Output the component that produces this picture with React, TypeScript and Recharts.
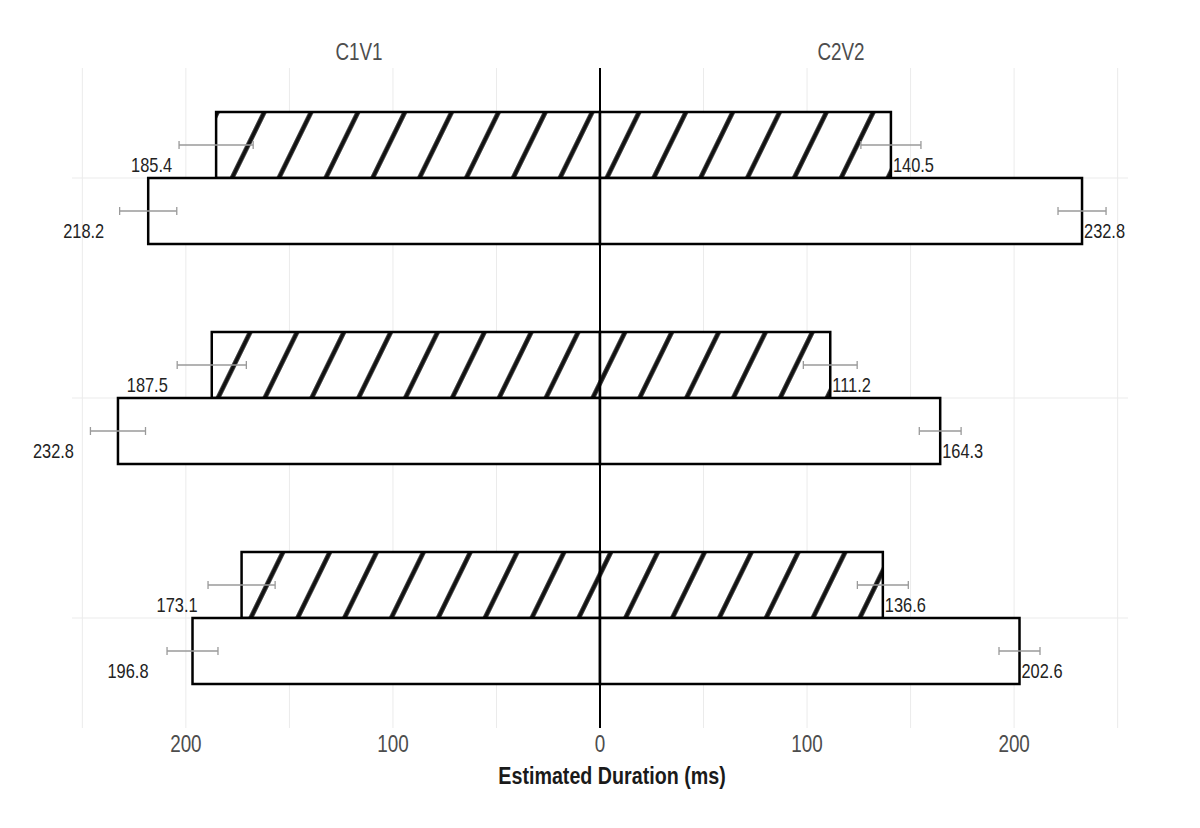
import React from 'react';
import { BarChart, Bar, XAxis, YAxis, CartesianGrid, ErrorBar, LabelList, ReferenceLine } from 'recharts';

// three rows, each a hatched bar (top) and an open bar (bottom)
const categories = ['Row 1', 'Row 2', 'Row 3'];
const panelTitles = ['C1V1', 'C2V2'];
const panelTitleAt = [-116.4, 116.4];
const xTicks = [-250, -200, -150, -100, -50, 0, 50, 100, 150, 200, 250];

const hatchedC1V1 = [185.4, 187.5, 173.1];
const hatchedC2V2 = [140.5, 111.2, 136.6];
const openC1V1 = [218.2, 232.8, 196.8];
const openC2V2 = [232.8, 164.3, 202.6];

const hatchedC1V1Err = [17.9, 16.7, 16.2];
const hatchedC2V2Err = [14.5, 13.0, 12.3];
const openC1V1Err = [13.8, 13.3, 12.3];
const openC2V2Err = [11.6, 10.1, 9.9];

const data = categories.map((name, i) => ({
  name,
  hatchedLeft: -hatchedC1V1[i],
  hatchedRight: hatchedC2V2[i],
  openLeft: -openC1V1[i],
  openRight: openC2V2[i],
  hatchedLeftErr: hatchedC1V1Err[i],
  hatchedRightErr: hatchedC2V2Err[i],
  openLeftErr: openC1V1Err[i],
  openRightErr: openC2V2Err[i],
}));

const FONT = '"Liberation Sans", Arial, sans-serif';
const NARROW = 0.82; // squeeze Arial-like glyphs into a narrow face

function NarrowText({ x, y, anchor = 'middle', size, weight = 'normal', fill, dy = 0, baseline = 'auto', children }: any) {
  return (
    <text
      transform={`translate(${x},${y}) scale(${NARROW},1)`}
      x={0}
      y={0}
      dy={dy}
      textAnchor={anchor}
      dominantBaseline={baseline}
      fontFamily={FONT}
      fontSize={size}
      fontWeight={weight}
      fill={fill}
    >
      {children}
    </text>
  );
}

const valueLabel = (side: 'left' | 'right') => (props: any) => {
  const vb = props.viewBox || {};
  const x = Number(vb.x ?? props.x);
  const y = Number(vb.y ?? props.y);
  const w = Number(vb.width ?? props.width);
  const h = Number(vb.height ?? props.height);
  const raw = Array.isArray(props.value) ? props.value[1] : props.value;
  const barLeft = Math.min(x, x + w);
  const barRight = Math.max(x, x + w);
  const bottom = Math.max(y, y + h);
  return (
    <NarrowText
      x={side === 'left' ? barLeft - 44 : barRight + 2}
      y={bottom - 13}
      anchor={side === 'left' ? 'end' : 'start'}
      baseline="central"
      size={20}
      fill="#222"
    >
      {Math.abs(Number(raw)).toFixed(1)}
    </NarrowText>
  );
};

const BottomTick = (props: any) => {
  const v = Number(props.payload?.value);
  if (v % 100 !== 0) return <g />;
  return (
    <NarrowText x={props.x} y={props.y} dy="0.71em" size={23} fill="#4d4d4d">
      {String(Math.abs(v))}
    </NarrowText>
  );
};

const TopTick = (props: any) => {
  const v = Number(props.payload?.value);
  return (
    <NarrowText x={props.x} y={props.y} size={23} fill="#4d4d4d">
      {v < 0 ? panelTitles[0] : panelTitles[1]}
    </NarrowText>
  );
};

const AxisTitle = (props: any) => {
  const vb = props.viewBox || {};
  return (
    <NarrowText x={vb.x + vb.width / 2 + 12} y={vb.y + vb.height - 44} size={24} weight="bold" fill="#1a1a1a">
      Estimated Duration (ms)
    </NarrowText>
  );
};

const errStyle = { stroke: '#9a9a9a', strokeWidth: 1.3 };

export default function App() {
  return (
    <div style={{ position: 'absolute', left: 0, top: 0, width: 1200, height: 828, background: '#fff' }}>
      <BarChart
        width={1200}
        height={828}
        data={data}
        layout="vertical"
        stackOffset="sign"
        barCategoryGap="20%"
        barGap={0}
        margin={{ top: 0, right: 72, bottom: 0, left: 72 }}
      >
        <defs>
          <pattern
            id="hatch"
            patternUnits="userSpaceOnUse"
            width={42.07}
            height={42.07}
            patternTransform="translate(295.8,0) rotate(26.1)"
          >
            <rect width={42.07} height={42.07} fill="#fff" />
            <rect x={18.79} y={0} width={4.5} height={42.07} fill="#111" />
          </pattern>
        </defs>
        <CartesianGrid xAxisId="bottom" stroke="#ebebeb" strokeWidth={1} syncWithTicks />
        <XAxis
          xAxisId="bottom"
          type="number"
          domain={[-255, 255]}
          ticks={xTicks}
          interval={0}
          allowDataOverflow
          axisLine={false}
          tickLine={false}
          height={100}
          tick={<BottomTick />}
          label={<AxisTitle />}
        />
        <XAxis
          xAxisId="top"
          orientation="top"
          type="number"
          domain={[-255, 255]}
          ticks={panelTitleAt}
          interval={0}
          allowDataOverflow
          axisLine={false}
          tickLine={false}
          height={68}
          tick={<TopTick />}
        />
        <YAxis type="category" dataKey="name" hide />
        <Bar xAxisId="bottom" dataKey="hatchedLeft" stackId="hatched" fill="url(#hatch)" stroke="#000" strokeWidth={2.5} isAnimationActive={false}>
          <ErrorBar dataKey="hatchedLeftErr" direction="x" width={4} {...errStyle} />
          <LabelList dataKey="hatchedLeft" content={valueLabel('left')} />
        </Bar>
        <Bar xAxisId="bottom" dataKey="hatchedRight" stackId="hatched" fill="url(#hatch)" stroke="#000" strokeWidth={2.5} isAnimationActive={false}>
          <ErrorBar dataKey="hatchedRightErr" direction="x" width={4} {...errStyle} />
          <LabelList dataKey="hatchedRight" content={valueLabel('right')} />
        </Bar>
        <Bar xAxisId="bottom" dataKey="openLeft" stackId="open" fill="#fff" stroke="#000" strokeWidth={2.5} isAnimationActive={false}>
          <ErrorBar dataKey="openLeftErr" direction="x" width={4} {...errStyle} />
          <LabelList dataKey="openLeft" content={valueLabel('left')} />
        </Bar>
        <Bar xAxisId="bottom" dataKey="openRight" stackId="open" fill="#fff" stroke="#000" strokeWidth={2.5} isAnimationActive={false}>
          <ErrorBar dataKey="openRightErr" direction="x" width={4} {...errStyle} />
          <LabelList dataKey="openRight" content={valueLabel('right')} />
        </Bar>
        <ReferenceLine xAxisId="bottom" x={0} stroke="#000" strokeWidth={2} />
      </BarChart>
    </div>
  );
}
